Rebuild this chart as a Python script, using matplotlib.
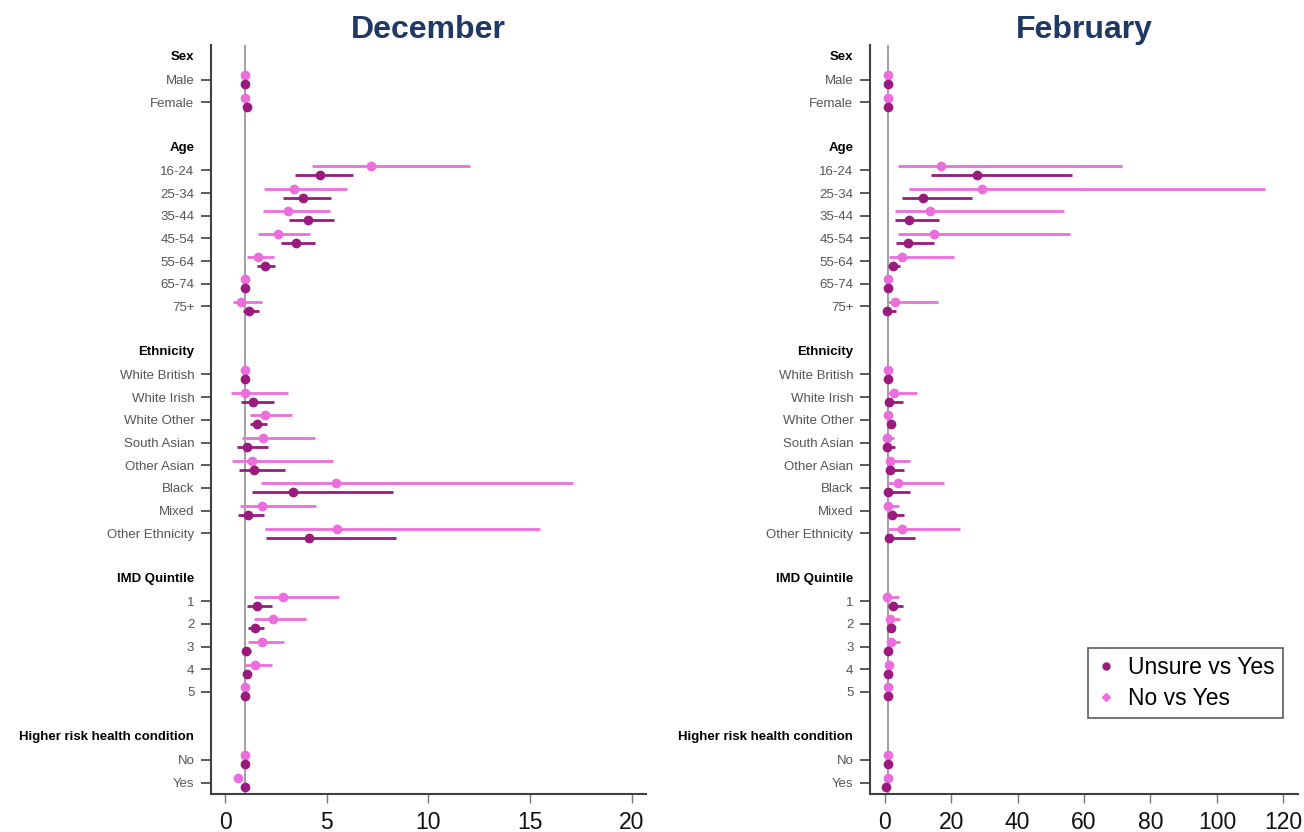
import matplotlib
matplotlib.use("Agg")
import matplotlib.pyplot as plt
from matplotlib.lines import Line2D
import numpy as np

plt.rcParams['font.family'] = ['Liberation Sans', 'DejaVu Sans']

# ---------------- data ----------------
groups = ["Sex", "Age", "Ethnicity", "IMD Quintile", "Higher risk health condition"]
levels = [
    ["Male", "Female"],
    ["16-24", "25-34", "35-44", "45-54", "55-64", "65-74", "75+"],
    ["White British", "White Irish", "White Other", "South Asian", "Other Asian",
     "Black", "Mixed", "Other Ethnicity"],
    ["1", "2", "3", "4", "5"],
    ["No", "Yes"],
]

# December
dec_unsure_or = [1, 1.1, 4.65, 3.85, 4.1, 3.48, 1.95, 1, 1.18, 1, 1.39, 1.58, 1.1, 1.41, 3.33, 1.12, 4.12, 1.56, 1.45, 1.02, 1.06, 1, 1, 1.0]
dec_unsure_lo = [1, 1.0, 3.44, 2.86, 3.15, 2.73, 1.58, 1, 0.9, 1, 0.81, 1.25, 0.57, 0.69, 1.35, 0.65, 2.01, 1.06, 1.14, 0.85, 0.9, 1, 1, 0.9]
dec_unsure_hi = [1, 1.2, 6.27, 5.23, 5.36, 4.41, 2.47, 1, 1.66, 1, 2.4, 2.07, 2.09, 2.96, 8.25, 1.93, 8.43, 2.3, 1.93, 1.27, 1.25, 1, 1, 1.1]
dec_no_or = [1, 0.98, 7.17, 3.37, 3.08, 2.59, 1.6, 1, 0.81, 1, 0.98, 1.97, 1.89, 1.31, 5.48, 1.82, 5.5, 2.84, 2.38, 1.82, 1.45, 1, 1, 0.63]
dec_no_lo = [1, 0.95, 4.28, 1.93, 1.85, 1.64, 1.06, 1, 0.38, 1, 0.3, 1.23, 0.85, 0.34, 1.76, 0.73, 1.97, 1.43, 1.43, 1.12, 1.0, 1, 1, 0.55]
dec_no_hi = [1, 1.05, 12.05, 5.98, 5.17, 4.16, 2.4, 1, 1.82, 1, 3.08, 3.29, 4.41, 5.3, 17.1, 4.49, 15.5, 5.6, 3.99, 2.92, 2.3, 1, 1, 0.72]

# February
feb_unsure_or = [1, 0.9, 27.9, 11.6, 7.4, 7.1, 2.4, 1, 0.6, 1, 1.4, 1.9, 0.6, 1.5, 0.9, 2.1, 1.3, 2.4, 1.9, 1.0, 1.0, 1, 1, 0.5]
feb_unsure_lo = [1, 0.8, 13.9, 5.3, 3.2, 3.5, 1.1, 1, 0.2, 1, 0.5, 1.2, 0.2, 0.5, 0.3, 1.0, 0.5, 1.0, 1.0, 0.6, 0.7, 1, 1, 0.3]
feb_unsure_hi = [1, 1.1, 56.3, 26.2, 16.5, 15.0, 4.7, 1, 3.4, 1, 5.4, 3.0, 3.0, 5.9, 7.7, 5.9, 9.0, 5.4, 3.2, 1.6, 1.8, 1, 1, 0.9]
feb_no_or = [1, 1.0, 17.0, 29.3, 13.5, 15.0, 5.3, 1, 3.1, 1, 2.9, 0.9, 0.6, 1.6, 3.9, 1.0, 5.1, 0.8, 1.7, 2.0, 1.4, 1, 1, 1.0]
feb_no_lo = [1, 0.9, 4.1, 7.4, 3.2, 4.0, 1.4, 1, 1.1, 1, 1.1, 0.5, 0.2, 0.4, 1.1, 0.3, 1.1, 0.3, 0.8, 0.9, 0.9, 1, 1, 0.8]
feb_no_hi = [1, 1.1, 71.5, 114.4, 54.0, 55.7, 20.8, 1, 16.0, 1, 9.8, 1.6, 2.9, 7.7, 17.9, 4.3, 22.8, 4.3, 4.5, 4.7, 2.4, 1, 1, 1.2]

titles = ["December", "February"]
xticks_dec = [0, 5, 10, 15, 20]
xticks_feb = [0, 20, 40, 60, 80, 100, 120]
series_labels = ["Unsure vs Yes", "No vs Yes"]

# ---------------- style ----------------
DARK = "#9A1A7E"
PINK = "#EC6EDD"
TITLE_C = "#1F3864"
LABEL_C = "#555555"
SPINE_C = "#404040"

# row layout
row_pos, row_lab, head_pos = [], [], []
r = 0
for g, lv in zip(groups, levels):
    head_pos.append(r)
    r += 1
    for l in lv:
        row_pos.append(r)
        row_lab.append(l)
        r += 1
    r += 1
row_pos = np.array(row_pos, dtype=float)

fig = plt.figure(figsize=(13.04, 8.32), dpi=100)
ax1 = fig.add_axes([0.1618, 0.0457, 0.3336, 0.9002])
ax2 = fig.add_axes([0.6672, 0.0457, 0.3282, 0.9002])

panels = [
    (ax1, (dec_unsure_or, dec_unsure_lo, dec_unsure_hi), (dec_no_or, dec_no_lo, dec_no_hi), xticks_dec, (-0.69, 20.7)),
    (ax2, (feb_unsure_or, feb_unsure_lo, feb_unsure_hi), (feb_no_or, feb_no_lo, feb_no_hi), xticks_feb, (-4.4, 124.4)),
]

TL, TP = 7, 5
for (ax, uns, no, xt, xl), title in zip(panels, titles):
    ax.axvline(1, color="#999999", lw=1.3, zorder=1)
    for (o, lo, hi), col, off in [(no, PINK, -0.2), (uns, DARK, 0.2)]:
        o = np.array(o); lo = np.array(lo); hi = np.array(hi)
        ax.errorbar(o, row_pos + off, xerr=[o - lo, hi - o], fmt='o', color=col,
                    ms=6, elinewidth=2.0, capsize=0, zorder=3)
    ax.set_ylim(32.5, -0.53)
    ax.set_xlim(*xl)
    ax.set_yticks(row_pos)
    ax.set_yticklabels(row_lab, fontsize=9.5, color=LABEL_C)
    ax.set_xticks(xt)
    ax.set_xticklabels([str(v) for v in xt], fontsize=16.5, color="#111111")
    ax.tick_params(axis='y', length=TL, width=1.2, color=SPINE_C, pad=TP)
    ax.tick_params(axis='x', length=6.5, width=1.0, color="#777777", pad=6)
    for s in ["top", "right"]:
        ax.spines[s].set_visible(False)
    for s in ["left", "bottom"]:
        ax.spines[s].set_color(SPINE_C)
        ax.spines[s].set_linewidth(1.5)
    for g, hp in zip(groups, head_pos):
        ax.annotate(g, xy=(0, hp), xycoords=('axes fraction', 'data'),
                    xytext=(-(TL + TP), 0), textcoords='offset points', ha='right', va='center',
                    fontsize=9.5, fontweight='bold', color='black')
    ax.set_title(title, fontsize=23, fontweight='bold', color=TITLE_C, pad=5)

handles = [
    Line2D([], [], marker='o', color=DARK, ls='none', ms=5),
    Line2D([], [], marker='D', color=PINK, ls='none', ms=4.5),
]
leg = ax2.legend(handles, series_labels, loc='lower right', bbox_to_anchor=(0.984, 0.137),
                 bbox_transform=fig.transFigure, borderaxespad=0, fontsize=16.5, frameon=True,
                 fancybox=False, edgecolor='#333333', handlelength=0.8, handletextpad=0.6,
                 borderpad=0.35, labelspacing=0.35)
leg.get_frame().set_linewidth(1.2)

fig.savefig("out.png", dpi=100)
